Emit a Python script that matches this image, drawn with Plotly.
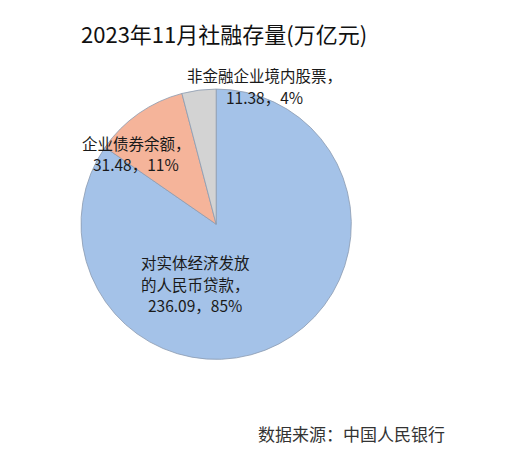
import plotly.graph_objects as go

# 2023年11月社融存量 (万亿元)
labels = ["对实体经济发放的人民币贷款", "企业债券余额", "非金融企业境内股票"]
values = [236.09, 31.48, 11.38]
pcts = ["85%", "11%", "4%"]
colors = ["#A4C2E8", "#F5B49A", "#D3D3D3"]

# label text, line-broken the way the source chart wraps them
label_lines = [["对实体经济发放", "的人民币贷款，"], ["企业债券余额，"], ["非金融企业境内股票，"]]
# label placement in pixels: centre x, y of first line
label_px = [(187, 262), (128, 143), (256, 75)]
LINE_STEP = 21.5

W, H = 529, 468
CJK = "Noto Sans CJK SC"

fig = go.Figure()
fig.add_trace(
    go.Pie(
        labels=labels,
        values=values,
        sort=False,
        direction="clockwise",
        rotation=0,
        marker=dict(colors=colors, line=dict(color="#8C9BB0", width=0.8)),
        textinfo="none",
        hoverinfo="label+value+percent",
        showlegend=False,
        domain=dict(x=[0.138, 0.649], y=[0.249, 0.827]),
    )
)


def add_text(txt, px, py, size, color="#1a1a1a"):
    # glyphs of the CJK font sit ~8px below the box middle, compensate
    fig.add_annotation(
        x=px / W, y=1 - (py - 8) / H, xref="paper", yref="paper",
        text=txt, showarrow=False,
        xanchor="center", yanchor="middle",
        font=dict(family=CJK, size=size, color=color),
    )


for lines, v, p, (px, py) in zip(label_lines, values, pcts, label_px):
    for i, line in enumerate(lines + [f"{v:.2f}，{p}"]):
        add_text(line, px, py + i * LINE_STEP, 15.5)

add_text("2023年11月社融存量(万亿元)", 216, 33, 22, "#111111")
add_text("数据来源：中国人民银行", 343, 433, 17, "#333333")

fig.update_layout(
    width=W,
    height=H,
    margin=dict(l=0, r=0, t=0, b=0),
    paper_bgcolor="white",
    plot_bgcolor="white",
)

fig.write_html("out.html")
